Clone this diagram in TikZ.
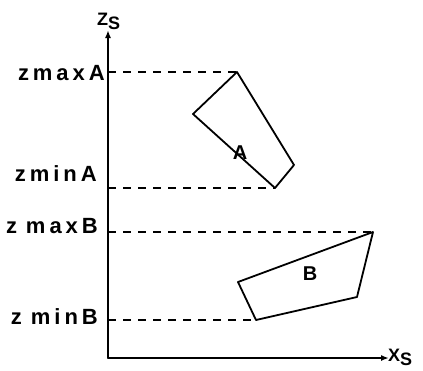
\documentclass[tikz,border=0pt]{standalone}
\usepackage{fontspec}
\setmainfont{Liberation Sans}
\newfontfamily\lblfont[LetterSpace=18]{Liberation Sans}
\usetikzlibrary{arrows.meta}
\tikzset{
  contorno/.style={line width=1.8pt, line join=round, line cap=round},
  tratteggio/.style={line width=1.5pt, dash pattern=on 8pt off 7pt},
  etichetta/.style={anchor=east, inner sep=0pt, font=\lblfont\bfseries\fontsize{22}{22}\selectfont},
  lettera/.style={inner sep=0pt, font=\bfseries\fontsize{20}{20}\selectfont},
  asse/.style={inner sep=0pt, font=\bfseries\fontsize{18}{18}\selectfont},
}
\begin{document}
\begin{tikzpicture}[x=1pt,y=-1pt]
    \useasboundingbox (0,0) rectangle (423,370); % margini
    % assi
    \coordinate (O) at (108,358);
    \coordinate (zs) at (108,30);
    \coordinate (xs) at (389,358);
    \draw[contorno, -{Latex[length=8pt,width=6pt]}] (O) -- (zs);
    \draw[contorno, -{Latex[length=8pt,width=6pt]}] (O) -- (xs);
    \node[asse, anchor=west] (Zs) at (97,21) {Z\raisebox{-4pt}{S}};
    \node[asse, anchor=west] (Xs) at (388,357) {X\raisebox{-4pt}{S}};
    % poligono A
    \coordinate (A1) at (237,72);
    \coordinate (A2) at (193,114);
    \coordinate (A3) at (275,188);
    \coordinate (A4) at (294,165);
    \draw[contorno] (A1) -- (A2) -- (A3) -- (A4) -- cycle;
    \node[lettera] (A) at (240,153) {A};
    % poligono B
    \coordinate (B1) at (373,232);
    \coordinate (B2) at (238,282);
    \coordinate (B3) at (256,320);
    \coordinate (B4) at (357,297);
    \draw[contorno] (B1) -- (B2) -- (B3) -- (B4) -- cycle;
    \node[lettera] (B) at (310,274) {B};
    % proiezioni sull'asse
    \coordinate (zmaxA) at (108,72);
    \coordinate (zminA) at (108,188);
    \coordinate (zmaxB) at (108,232);
    \coordinate (zminB) at (108,320);
    \draw[tratteggio] (zmaxA) -- (A1);
    \draw[tratteggio] (zminA) -- (A3);
    \draw[tratteggio] (zmaxB) -- (B1);
    \draw[tratteggio] (zminB) -- (B3);
    \node[etichetta] (lmaxA) at (105,73) {zmaxA};
    \node[etichetta] (lminA) at (97,174) {zminA};
    \node[etichetta] (lmaxB) at (98,226) {z\hspace{9pt}maxB};
    \node[etichetta] (lminB) at (98,317) {z\hspace{9pt}minB};
\end{tikzpicture}
\end{document}
